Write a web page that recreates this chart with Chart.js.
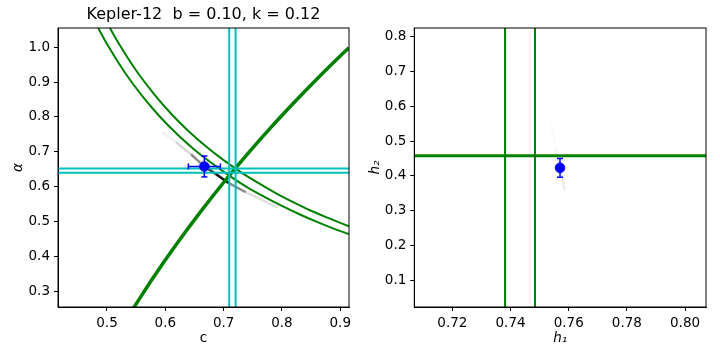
<!DOCTYPE html>
<html>
<head>
<meta charset="utf-8">
<script src="https://cdn.jsdelivr.net/npm/chart.js@4"></script>
<style>
  html, body { margin: 0; padding: 0; background: #fff; }
  .wrap { position: relative; width: 720px; height: 360px; }
  canvas { position: absolute; top: 0; }
</style>
</head>
<body>
<div class="wrap">
  <canvas id="left" width="360" height="360" style="left:0"></canvas>
  <canvas id="right" width="360" height="360" style="left:360px"></canvas>
</div>
<script>
// ---- left panel: c vs alpha ----
const cLimits = [0.416, 0.915]
const alphaLimits = [0.255, 1.055]
const cTicks = [0.5, 0.6, 0.7, 0.8, 0.9]
const alphaTicks = [0.3, 0.4, 0.5, 0.6, 0.7, 0.8, 0.9, 1.0]

// curves of constant h1 (two of them)
const h1OuterC = [0.504, 0.52, 0.55, 0.58, 0.61, 0.64, 0.67, 0.70, 0.73, 0.76, 0.79, 0.82, 0.85, 0.88, 0.915]
const h1OuterAlpha = [1.058, 1.011, 0.933, 0.867, 0.809, 0.759, 0.715, 0.676, 0.641, 0.610, 0.581, 0.555, 0.531, 0.510, 0.486]
const h1InnerC = [0.484, 0.50, 0.53, 0.56, 0.59, 0.62, 0.65, 0.68, 0.71, 0.74, 0.77, 0.80, 0.83, 0.86, 0.89, 0.915]
const h1InnerAlpha = [1.058, 1.009, 0.929, 0.861, 0.802, 0.751, 0.706, 0.667, 0.631, 0.599, 0.571, 0.545, 0.521, 0.499, 0.479, 0.464]
// curve of constant h2
const h2C = [0.545, 0.58, 0.62, 0.66, 0.70, 0.74, 0.78, 0.82, 0.86, 0.90, 0.915]
const h2Alpha = [0.251, 0.341, 0.437, 0.527, 0.612, 0.692, 0.768, 0.840, 0.909, 0.975, 0.998]
// cyan limits
const cBand = [0.7096, 0.7206]
const alphaBand = [0.652, 0.640]
// fitted value
const fitC = [0.667], fitCErr = 0.0275
const fitAlpha = [0.658], fitAlphaErr = 0.030
// grey sample trail
const trailC = [0.594, 0.618, 0.644, 0.666, 0.687, 0.709, 0.738, 0.793]
const trailAlpha = [0.756, 0.728, 0.693, 0.659, 0.636, 0.610, 0.584, 0.541]
const trailShade = [0.05, 0.15, 0.45, 0.75, 0.9, 0.45, 0.12, 0.04]

// ---- right panel: h1 vs h2 ----
const h1Limits = [0.7069, 0.8072]
const h2Limits = [0.023, 0.825]
const h1Ticks = [0.72, 0.74, 0.76, 0.78, 0.80]
const h2Ticks = [0.1, 0.2, 0.3, 0.4, 0.5, 0.6, 0.7, 0.8]
const h1Lines = [0.7381, 0.7484]
const h2Lines = [0.4565, 0.4595]
const fitH1 = [0.757]
const fitH2 = [0.423], fitH2Err = 0.027
const trail2H1 = [0.7539, 0.7556, 0.757, 0.7586]
const trail2H2 = [0.552, 0.474, 0.425, 0.359]
const trail2Shade = [0.02, 0.05, 0.07, 0.03]

const GREEN = '#008000'
const CYAN = '#00bfbf'
const FONT = "'DejaVu Sans', sans-serif"

const toXY = (xs, ys) => xs.map((x, i) => ({x, y: ys[i]}))

const curve = (xs, ys, color, width) => ({
  data: toXY(xs, ys), showLine: true, borderColor: color, borderWidth: width,
  pointRadius: 0, cubicInterpolationMode: 'monotone', clip: 0
})
const straight = (xs, ys, color, width) => ({
  data: toXY(xs, ys), showLine: true, borderColor: color, borderWidth: width,
  pointRadius: 0, tension: 0, clip: 0
})
const trail = (xs, ys, shade, width) => ({
  data: toXY(xs, ys), showLine: true, borderWidth: width, pointRadius: 0, clip: 0,
  borderColor: 'rgba(0,0,0,0.1)',
  segment: { borderColor: c => `rgba(0,0,0,${shade[c.p0DataIndex]})` }
})
const point = (xs, ys, errX, errY) => ({
  data: toXY(xs, ys), pointRadius: 4.8, pointHoverRadius: 4.8,
  backgroundColor: 'blue', borderColor: 'blue', errX, errY
})

// blue error bars, drawn just before the point itself
const errorBars = {
  id: 'errorBars',
  beforeDatasetDraw(chart, {index}) {
    const ds = chart.data.datasets[index]
    if (!ds.errX && !ds.errY) return
    const {ctx, scales: {x, y}} = chart
    const seg = (a, b, c, d) => { ctx.beginPath(); ctx.moveTo(a, b); ctx.lineTo(c, d); ctx.stroke() }
    ctx.save()
    ctx.strokeStyle = 'blue'
    ctx.lineWidth = 1.5
    ds.data.forEach(p => {
      const px = x.getPixelForValue(p.x), py = y.getPixelForValue(p.y)
      if (ds.errX) {
        const l = x.getPixelForValue(p.x - ds.errX), r = x.getPixelForValue(p.x + ds.errX)
        seg(l, py, r, py); seg(l, py - 3, l, py + 3); seg(r, py - 3, r, py + 3)
      }
      if (ds.errY) {
        const t = y.getPixelForValue(p.y + ds.errY), b = y.getPixelForValue(p.y - ds.errY)
        seg(px, t, px, b); seg(px - 3, t, px + 3, t); seg(px - 3, b, px + 3, b)
      }
    })
    ctx.restore()
  }
}

// full box around the axes
const frame = {
  id: 'frame',
  afterDraw(chart) {
    const {ctx, chartArea: a} = chart
    ctx.save()
    ctx.strokeStyle = '#000'
    ctx.lineWidth = 1
    ctx.strokeRect(a.left, a.top, a.right - a.left, a.bottom - a.top)
    ctx.restore()
  }
}

const axis = (lim, ticks, digits, title, titlePad, fit, italic) => ({
  type: 'linear', min: lim[0], max: lim[1],
  afterBuildTicks: s => { s.ticks = ticks.map(v => ({value: v})) },
  afterFit: fit,
  grid: { drawOnChartArea: false, drawTicks: true, tickLength: 4, color: '#000', lineWidth: 1 },
  border: { display: true, color: '#000', width: 1 },
  ticks: { color: '#000', font: {family: FONT, size: 13.5}, padding: 4, maxRotation: 0, autoSkip: false,
           callback: v => Number(v).toFixed(digits) },
  title: { display: true, text: title, color: '#000', padding: titlePad,
           font: {family: FONT, size: 13.5, style: italic ? 'italic' : 'normal'} }
})

const baseOptions = {
  responsive: false, animation: false, events: [],
  plugins: { legend: { display: false }, tooltip: { enabled: false } }
}

new Chart(document.getElementById('left'), {
  type: 'scatter',
  data: {
    datasets: [
      point(fitC, fitAlpha, fitCErr, fitAlphaErr),
      straight([cBand[0], cBand[0]], alphaLimits, CYAN, 2),
      straight([cBand[1], cBand[1]], alphaLimits, CYAN, 2),
      straight(cLimits, [alphaBand[0], alphaBand[0]], CYAN, 2),
      straight(cLimits, [alphaBand[1], alphaBand[1]], CYAN, 2),
      curve(h2C, h2Alpha, GREEN, 3.5),
      curve(h1OuterC, h1OuterAlpha, GREEN, 2),
      curve(h1InnerC, h1InnerAlpha, GREEN, 2),
      trail(trailC, trailAlpha, trailShade, 2.5)
    ]
  },
  options: {
    ...baseOptions,
    layout: { padding: {top: 0, right: 11, bottom: 0, left: 0} },
    plugins: {
      ...baseOptions.plugins,
      title: { display: true, fullSize: false, text: 'Kepler-12  b = 0.10, k = 0.12', color: '#000',
               font: {family: FONT, size: 16, weight: 'normal', lineHeight: 1.2}, padding: {top: 5, bottom: 3.8} }
    },
    scales: {
      x: axis(cLimits, cTicks, 1, 'c', {top: 0, bottom: 13}, s => { s.height = 53 }, false),
      y: axis(alphaLimits, alphaTicks, 1, 'α', {top: 10, bottom: 0}, s => { s.width = 58 }, true)
    }
  },
  plugins: [errorBars, frame]
})

new Chart(document.getElementById('right'), {
  type: 'scatter',
  data: {
    datasets: [
      point(fitH1, fitH2, 0, fitH2Err),
      straight([h1Lines[0], h1Lines[0]], h2Limits, GREEN, 2),
      straight([h1Lines[1], h1Lines[1]], h2Limits, GREEN, 2),
      straight(h1Limits, [h2Lines[0], h2Lines[0]], GREEN, 2),
      straight(h1Limits, [h2Lines[1], h2Lines[1]], GREEN, 2),
      trail(trail2H1, trail2H2, trail2Shade, 3)
    ]
  },
  options: {
    ...baseOptions,
    layout: { padding: {top: 28, right: 14, bottom: 0, left: 0} },
    scales: {
      x: axis(h1Limits, h1Ticks, 2, 'h₁', {top: 0, bottom: 13}, s => { s.height = 53 }, true),
      y: axis(h2Limits, h2Ticks, 1, 'h₂', {top: 7, bottom: 0}, s => { s.width = 54.3 }, true)
    }
  },
  plugins: [errorBars, frame]
})
</script>
</body>
</html>
